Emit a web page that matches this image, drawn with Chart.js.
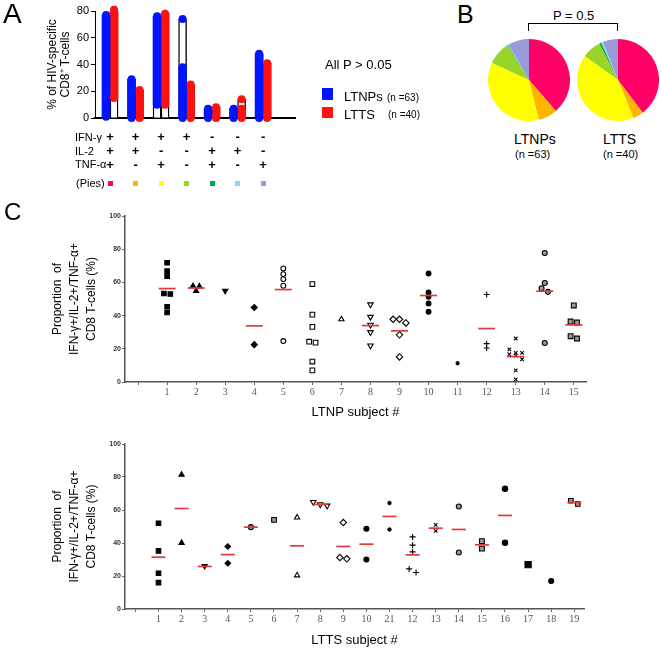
<!DOCTYPE html>
<html>
<head>
<meta charset="utf-8">
<script src="https://cdn.jsdelivr.net/npm/chart.js@4.4.1/dist/chart.umd.min.js"></script>
<style>
  body { margin: 0; background: #fff; width: 661px; height: 650px; position: relative; overflow: hidden;
         font-family: "Liberation Sans", Arial, sans-serif; color: #000; }
  canvas { position: absolute; }
  .t { position: absolute; white-space: nowrap; }
  .key { position: absolute; width: 5px; height: 5px; }
</style>
</head>
<body>
<canvas id="chartA" width="330" height="200" style="left:0;top:0"></canvas>
<canvas id="pieLtnp" width="82" height="82" style="left:488px;top:39px"></canvas>
<canvas id="pieLtts" width="82" height="82" style="left:577px;top:39px"></canvas>
<canvas id="chartC1" width="661" height="220" style="left:0;top:200px"></canvas>
<canvas id="chartC2" width="661" height="230" style="left:0;top:420px"></canvas>

<div class="t" style="left:3px;top:0;font-size:28px;line-height:28px">A</div>
<div class="t" style="left:457px;top:2px;font-size:25px;line-height:25px">B</div>
<div class="t" style="left:4px;top:200px;font-size:24px;line-height:24px">C</div>

<div class="t" style="left:75px;top:131px;font-size:11px;line-height:12px">IFN-γ</div>
<div class="t" style="left:75px;top:145px;font-size:11px;line-height:12px">IL-2</div>
<div class="t" style="left:75px;top:158px;font-size:11px;line-height:12px">TNF-α</div>
<div class="t" style="left:76px;top:177px;font-size:11px;line-height:12px">(Pies)</div>

<div class="t" style="left:325px;top:58px;font-size:13px;line-height:13px">All P &gt; 0.05</div>
<div style="position:absolute;left:322px;top:88px;width:11px;height:12px;background:#0015ff"></div>
<div style="position:absolute;left:322px;top:107px;width:11px;height:11px;background:#ff1111"></div>
<div class="t" style="left:344px;top:90px;font-size:13px;line-height:13px">LTNPs</div>
<div class="t" style="left:387px;top:93px;font-size:10px;line-height:10px">(n =63)</div>
<div class="t" style="left:344px;top:108px;font-size:13px;line-height:13px">LTTS</div>
<div class="t" style="left:388px;top:110px;font-size:10px;line-height:10px">(n =40)</div>

<div class="t" style="left:553px;top:9px;font-size:13px;line-height:13px">P = 0.5</div>
<div style="position:absolute;left:528px;top:23px;width:88px;height:7px;border:1.5px solid #000;border-bottom:none"></div>
<div class="t" style="left:514px;top:132px;font-size:14px;line-height:14px">LTNPs</div>
<div class="t" style="left:515px;top:149px;font-size:11px;line-height:11px">(n =63)</div>
<div class="t" style="left:603px;top:132px;font-size:14px;line-height:14px">LTTS</div>
<div class="t" style="left:603px;top:149px;font-size:11px;line-height:11px">(n =40)</div>

<script>
Chart.defaults.font.family = '"Liberation Sans", Arial, sans-serif'
Chart.defaults.color = '#000'

// ---- panel A: cytokine combinations ----
const groups = [1, 2, 3, 4, 5, 6, 7]
// rows: IFN-γ, IL-2, TNF-α
const signRows = [['+', '+', '+'], ['+', '+', '-'], ['+', '-', '+'], ['+', '-', '-'],
                  ['-', '+', '+'], ['-', '+', '-'], ['-', '-', '+']]
const pieColors = ['#ff0066', '#ffb400', '#ffff00', '#99d42a', '#00a650', '#8ad8f5', '#9a9ad8']
// spread of the individual values (min, max) per combination
const ltnpRange = [[1, 77], [0, 29], [10, 76], [0, 38], [0, 7], [0, 7], [0, 48]]
const lttsRange = [[15, 81], [0, 21], [10, 78], [0, 25], [0, 8], [0, 7], [0, 41]]
// isolated values above the column
const ltnpExtra = [null, null, null, 74, null, null, null]
const lttsExtra = [null, null, null, null, null, 14, null]

// ---- panel B: pie fractions (%) ----
const ltnpPie = [38.6, 7.6, 35.7, 9.2, 0.3, 0.3, 8.3]
const lttsPie = [39.7, 4.2, 41.1, 7.5, 0.8, 0.7, 6.0]

// ---- panel C ----
const ltnpLabels = ['1', '2', '3', '4', '5', '6', '7', '8', '9', '10', '11', '12', '13', '14', '15']
const ltnpValues = [
  [71.8, 66.8, 63.8, 53.3, 53.0, 45.3, 41.9],
  [57.8, 57.6, 54.8],
  [54.9],
  [44.9, 22.5],
  [68.4, 65.0, 62.0, 58.0, 24.7],
  [59.0, 40.6, 33.2, 24.3, 23.7, 12.3, 7.0],
  [37.8],
  [46.7, 39.2, 34.4, 30.0, 21.9],
  [37.8, 37.8, 35.6, 28.4, 15.1],
  [65.4, 53.9, 51.3, 47.3, 42.3],
  [11.3],
  [52.7, 23.1, 20.5],
  [26.2, 19.7, 17.5, 17.5, 16.7, 15.9, 13.7, 7.0, 1.6],
  [77.7, 59.6, 56.5, 54.3, 23.5],
  [46.1, 36.4, 35.8, 27.6, 26.2]
]
const ltnpMeans = [56.3, 56.6, null, 33.8, 55.7, null, null, 34.0, 30.8, 52.1, null, 32.2, 15.3, 54.7, 34.4]

const lttsLabels = ['1', '2', '3', '4', '5', '6', '7', '8', '9', '10', '21', '12', '13', '14', '15', '16', '17', '18', '19']
const lttsValues = [
  [52.0, 35.2, 21.7, 16.0],
  [81.4, 40.1],
  [26.1],
  [37.9, 27.7],
  [49.6],
  [54.0],
  [55.5, 20.4],
  [64.8, 63.4, 62.6],
  [52.4, 31.2, 30.4],
  [48.6, 30.0],
  [64.2, 48.2],
  [43.7, 38.7, 34.6, 24.3, 22.1],
  [51.0, 47.4],
  [62.1, 34.2],
  [41.1, 36.6],
  [72.9, 40.1],
  [26.9],
  [17.0],
  [65.6, 63.6]
]
const lttsMeans = [31.4, 60.9, 25.8, 33.0, 49.6, null, 38.3, 63.4, 37.9, 39.3, 56.1, 32.8, 49.0, 48.2, 38.9, 56.7, null, null, 64.6]

// marker looks
const F = '#000', O = '#fff', G = '#9a9a9a'
const mk = (style, fill, r, rot) => ({ style, fill, r, rot: rot || 0 })
const ltnpMarkers = [mk('rect', F, 3.2), mk('triangle', F, 3), mk('triangle', F, 3, 180), mk('rectRot', F, 3),
  mk('circle', O, 2.4), mk('rect', O, 3.3), mk('triangle', O, 3), mk('triangle', O, 3.2, 180), mk('rectRot', O, 3.2),
  mk('circle', F, 2.4), mk('star', F, 2.2), mk('cross', F, 3), mk('crossRot', F, 2.5), mk('circle', G, 2.5), mk('rect', G, 3.4)]
const lttsMarkers = [mk('rect', F, 3.2), mk('triangle', F, 3), mk('triangle', F, 3, 180), mk('rectRot', F, 2.8),
  mk('circle', G, 2.5), mk('rect', G, 3.3), mk('triangle', O, 3), mk('triangle', O, 3.2, 180), mk('rectRot', O, 3.2),
  mk('circle', F, 2.5), mk('star', F, 2.3), mk('cross', F, 3), mk('crossRot', F, 2.5), mk('circle', G, 2.5), mk('rect', G, 3.4),
  mk('circle', F, 2.7), mk('rect', F, 4.4), mk('circle', F, 2.5), mk('rect', G, 3.2)]

const BLUE = '#0015ff'
const RED = '#ff1111'
const CAP_OFF = 4 / 25.5   // half a column, in group units

const tops = (ranges, extra) => ranges.map((r, i) => Math.max(r[1], extra[i] == null ? -Infinity : extra[i]))
const capPoints = (ranges, extra, side) => groups.flatMap((g, i) => {
  const vals = [ranges[i][0], ranges[i][1]]
  if (extra[i] != null) vals.push(extra[i])
  return vals.map(v => ({ x: g + side * CAP_OFF, y: v }))
})

const chartA = new Chart(document.getElementById('chartA'), {
  type: 'bar',
  data: {
    labels: groups,
    datasets: [
      { label: 'LTNPs', data: tops(ltnpRange, ltnpExtra), stack: 'n', backgroundColor: '#fff', borderColor: '#000', borderWidth: 1.4, barThickness: 8, order: 3 },
      { label: 'LTTS', data: tops(lttsRange, lttsExtra), stack: 't', backgroundColor: '#fff', borderColor: '#000', borderWidth: 1.4, barThickness: 8, order: 3 },
      { label: 'LTNPs values', data: ltnpRange, stack: 'n', backgroundColor: BLUE, borderWidth: 0, barThickness: 8, order: 2 },
      { label: 'LTTS values', data: lttsRange, stack: 't', backgroundColor: RED, borderWidth: 0, barThickness: 8, order: 2 },
      { type: 'scatter', label: 'LTNPs ends', data: capPoints(ltnpRange, ltnpExtra, -1), pointRadius: 4, pointHoverRadius: 4, pointBackgroundColor: BLUE, pointBorderWidth: 0, order: 1, clip: false },
      { type: 'scatter', label: 'LTTS ends', data: capPoints(lttsRange, lttsExtra, 1), pointRadius: 4, pointHoverRadius: 4, pointBackgroundColor: RED, pointBorderWidth: 0, order: 1, clip: false }
    ]
  },
  options: {
    responsive: false,
    animation: false,
    layout: { padding: { top: 11, right: 35, left: 0, bottom: 0 } },
    plugins: { legend: { display: false }, tooltip: { enabled: false } },
    scales: {
      x: {
        type: 'linear', offset: false, min: 0.41, max: 8.25,
        afterFit: s => { s.height = 82 },
        grid: { display: false, offset: false },
        border: { color: '#000', width: 2 },
        ticks: {
          stepSize: 1, includeBounds: false, autoSkip: false, maxRotation: 0, padding: 4,
          font: { size: 13, weight: 'bold', lineHeight: 1.08 },
          callback: v => signRows[Math.round(v) - 1] || ''
        }
      },
      y: {
        min: 0, max: 80, stacked: false,
        afterFit: s => { s.width = 95 },
        grid: { drawOnChartArea: false, tickLength: 4, color: '#000' },
        border: { color: '#000', width: 1 },
        ticks: { stepSize: 20, padding: 2, font: { size: 11 } },
        title: {
          display: true, text: ['% of HIV-specific', 'CD8\u207A T-cells'],
          font: { size: 12, lineHeight: 1.08 }, padding: { top: 46.5, bottom: 0 }
        }
      }
    }
  }
})

// pie colour keys, placed under each combination from the chart's own x scale
groups.forEach((g, i) => {
  const d = document.createElement('div')
  d.className = 'key'
  d.style.background = pieColors[i]
  d.style.left = (chartA.scales.x.getPixelForValue(g) - 2.5) + 'px'
  d.style.top = (chartA.chartArea.bottom + 62.5) + 'px'
  document.body.appendChild(d)
})

const pieChart = (id, values) => new Chart(document.getElementById(id), {
  type: 'pie',
  data: {
    labels: signRows.map(r => r.join('')),
    datasets: [{ data: values, backgroundColor: pieColors, borderWidth: 0 }]
  },
  options: {
    responsive: false,
    animation: false,
    plugins: { legend: { display: false }, tooltip: { enabled: false } }
  }
})
pieChart('pieLtnp', ltnpPie)
pieChart('pieLtts', lttsPie)

// side-by-side spread for values that would overlap
const jitter = (vals, thr) => {
  const idx = vals.map((v, i) => i).sort((a, b) => vals[b] - vals[a])
  const offs = new Array(vals.length).fill(0)
  let k = 0
  while (k < idx.length) {
    let e = k
    while (e + 1 < idx.length && vals[idx[e]] - vals[idx[e + 1]] < thr) e++
    const n = e - k + 1
    for (let j = 0; j < n; j++) {
      offs[idx[k + j]] = n === 1 ? 0 : n === 2 ? j - 0.5 : (j % 3) - 1
    }
    k = e + 1
  }
  return offs
}

const subjectChart = (id, labels, values, means, markers, cfg) => {
  const sets = values.map((vals, i) => {
    const offs = jitter(vals, 2.5)
    const m = markers[i]
    return {
      label: 'Subject ' + labels[i],
      data: vals.map((v, j) => ({ x: i + 1 + offs[j] * cfg.step, y: v })),
      pointStyle: m.style, pointRotation: m.rot, pointRadius: m.r, pointHoverRadius: m.r,
      pointBackgroundColor: m.fill, pointBorderColor: '#000', pointBorderWidth: 1.1,
      order: 1, clip: false
    }
  })
  sets.push({
    label: 'mean',
    data: means.flatMap((mv, i) => mv == null ? [] : [{ x: i + 1, y: mv }]),
    pointStyle: 'line', pointRadius: cfg.half, pointHoverRadius: cfg.half,
    pointBorderColor: '#e03a3a', pointBorderWidth: 1.7, order: 0, clip: false
  })
  return new Chart(document.getElementById(id), {
    type: 'scatter',
    data: { datasets: sets },
    options: {
      responsive: false,
      animation: false,
      layout: { padding: { top: cfg.padTop, right: cfg.padRight, left: 0, bottom: 0 } },
      plugins: { legend: { display: false }, tooltip: { enabled: false } },
      scales: {
        x: {
          type: 'linear', min: -0.45, max: labels.length + 0.42,
          afterFit: s => { s.height = cfg.xHeight },
          grid: { drawOnChartArea: false, tickLength: 3, color: '#666' },
          border: { color: '#555', width: 1.5 },
          ticks: {
            stepSize: 1, includeBounds: false, autoSkip: false, maxRotation: 0, padding: 1,
            color: '#555', font: { family: '"Liberation Serif", "Times New Roman", serif', size: 10 },
            callback: v => labels[Math.round(v) - 1] || ''
          },
          title: {
            display: true, text: cfg.xTitle, font: { size: 13 },
            padding: { top: 0, bottom: cfg.titlePad }
          }
        },
        y: {
          min: 0, max: 100,
          afterFit: s => { s.width = 125 },
          grid: { drawOnChartArea: false, tickLength: 3, color: '#666' },
          border: { color: '#555', width: 1.5 },
          ticks: { stepSize: 20, padding: 1, color: '#333', font: { size: 7, weight: 'bold' } },
          title: {
            display: true,
            text: ['Proportion  of', 'IFN-\u03B3+/IL-2+/TNF-\u03B1+', 'CD8 T-cells (%)'],
            font: { size: 12, lineHeight: 1.42 }, padding: { top: 49.5, bottom: 0 }
          }
        }
      }
    }
  })
}

subjectChart('chartC1', ltnpLabels, ltnpValues, ltnpMeans, ltnpMarkers,
  { padTop: 16, padRight: 75, xHeight: 38, step: 0.22, half: 8.5, titlePad: 0, xTitle: 'LTNP subject #' })
subjectChart('chartC2', lttsLabels, lttsValues, lttsMeans, lttsMarkers,
  { padTop: 24, padRight: 77, xHeight: 41, step: 0.3, half: 7, titlePad: 2, xTitle: 'LTTS subject #' })
</script>
</body>
</html>
